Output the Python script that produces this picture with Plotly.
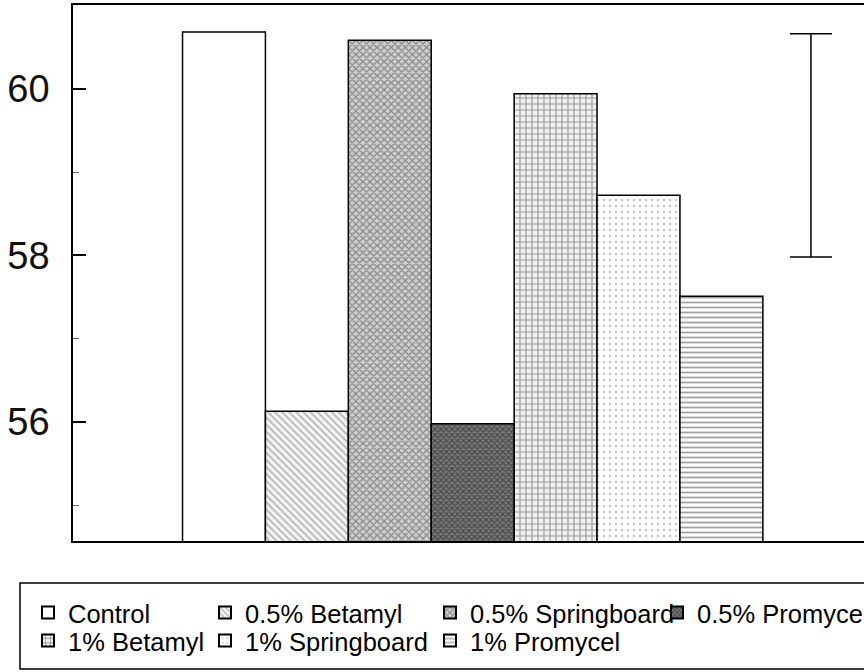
import plotly.graph_objects as go

# ---- data ----
treatments = ["Control", "0.5% Betamyl", "0.5% Springboard", "0.5% Promycel",
              "1% Betamyl", "1% Springboard", "1% Promycel"]
values = [60.68, 56.13, 60.58, 55.98, 59.94, 58.72, 57.51]
positions = [1, 2, 3, 4, 5, 6, 7]
lsd_center = 59.32
lsd_half = 1.34
lsd_position = 8.08
y_ticks = [56, 58, 60]

# ---- styles ----
patterns = [
    dict(shape=""),
    dict(shape="\\", fgcolor="#7a7a7a", bgcolor="#f4f4f4", size=5, solidity=0.35),
    dict(shape="x", fgcolor="#444444", bgcolor="#cfcfcf", size=5, solidity=0.45),
    dict(shape="x", fgcolor="#1a1a1a", bgcolor="#7a7a7a", size=4, solidity=0.55),
    dict(shape="+", fgcolor="#444444", bgcolor="#f0f0f0", size=6, solidity=0.35),
    dict(shape=".", fgcolor="#8a8a8a", bgcolor="white", size=6, solidity=0.12),
    dict(shape="-", fgcolor="#444444", bgcolor="white", size=5, solidity=0.35),
]
legend_ids = ["legend", "legend", "legend", "legend", "legend2", "legend2", "legend2"]
legend_widths = [132, 180, 182, 160, 132, 180, 200]

FONT = "Liberation Sans, Arial, sans-serif"

fig = go.Figure()
for name, val, pos, pat, lg, lw in zip(treatments, values, positions, patterns,
                                        legend_ids, legend_widths):
    fig.add_trace(go.Bar(
        x=[pos], y=[val], name=name, width=1.0,
        marker=dict(color="white", line=dict(color="black", width=1.5), pattern=pat),
        legend=lg, legendwidth=lw,
    ))

fig.add_trace(go.Scatter(
    x=[lsd_position], y=[lsd_center], mode="markers",
    marker=dict(size=1, color="rgba(0,0,0,0)"),
    error_y=dict(type="data", array=[lsd_half], symmetric=True,
                 color="black", thickness=1.5, width=21),
    showlegend=False, hoverinfo="skip",
))

PW = 791.0
PH = 536.0
def px_x(px):
    return (px - 73) / PW
def px_y(py):
    return (541 - py) / PH

legend_common = dict(
    orientation="h", xanchor="left", yanchor="middle",
    bgcolor="rgba(0,0,0,0)", borderwidth=0,
    font=dict(family=FONT, size=25.5, color="black"),
    traceorder="normal", itemsizing="constant",
)

fig.update_layout(
    width=864, height=672,
    margin=dict(l=73, r=0, t=5, b=131, autoexpand=False),
    paper_bgcolor="white", plot_bgcolor="white",
    barmode="overlay",
    font=dict(family=FONT, color="black"),
    showlegend=True,
    legend=dict(x=px_x(28), y=px_y(613), **legend_common),
    legend2=dict(x=px_x(28), y=px_y(641), **legend_common),
    xaxis=dict(range=[-0.821, 8.72], showticklabels=False, ticks="",
               showgrid=False, zeroline=False,
               showline=True, linecolor="black", linewidth=1.5, mirror=True),
    yaxis=dict(range=[54.572, 61.004], tickvals=y_ticks,
               ticks="inside", ticklen=13, tickwidth=1.5, tickcolor="black",
               minor=dict(dtick=1, ticks="inside", ticklen=6, tickcolor="#666666", tickwidth=1),
               tickfont=dict(family=FONT, size=38, color="#111111"),
               ticklabelstandoff=14,
               showgrid=False, zeroline=False,
               showline=True, linecolor="black", linewidth=1.5, mirror=False),
    shapes=[dict(type="rect", xref="paper", yref="paper",
                 x0=px_x(20), x1=1.05, y0=px_y(669), y1=px_y(583),
                 line=dict(color="black", width=1.5), fillcolor="rgba(0,0,0,0)",
                 layer="above")],
)

fig.write_html("out.html")
